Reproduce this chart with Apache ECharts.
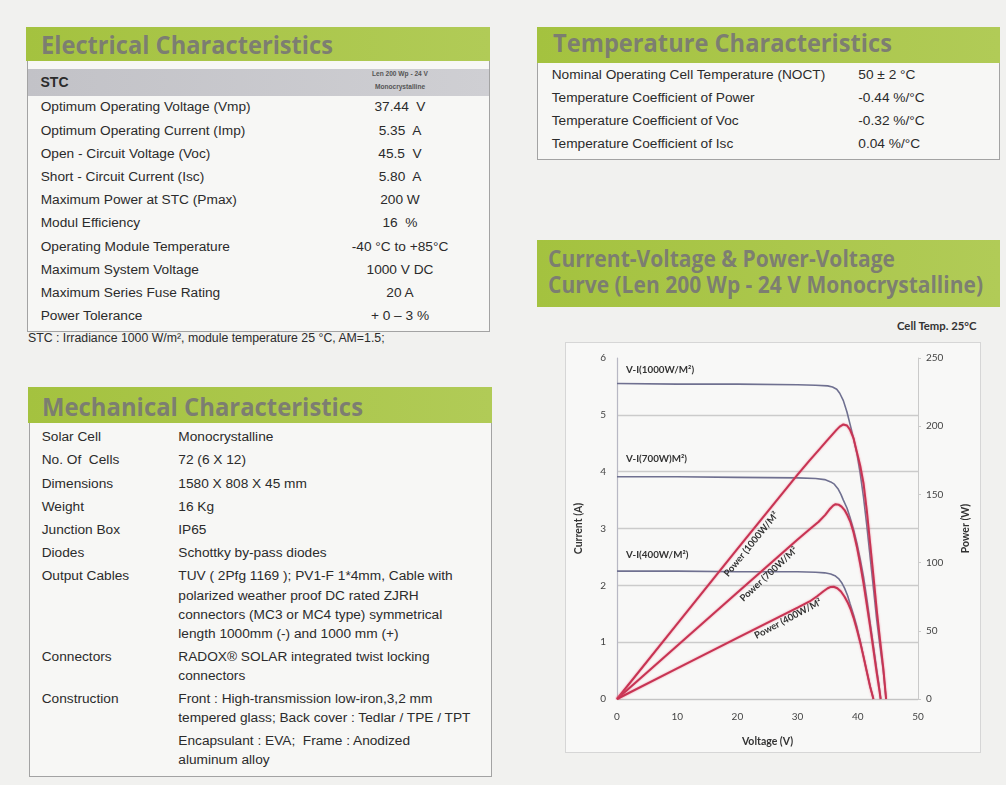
<!DOCTYPE html>
<html><head><meta charset="utf-8">
<script src="https://cdn.jsdelivr.net/npm/echarts@6/dist/echarts.min.js"></script>
<style>
html,body{margin:0;padding:0;}
body{width:1006px;height:785px;position:relative;overflow:hidden;background:#f1f1ef;font-family:"Liberation Sans",Arial,sans-serif;color:#2b2b2b;}
.band{position:absolute;background:linear-gradient(90deg,#a4c23f,#b1cb57);}
.t{position:absolute;font-family:"Open Sans",sans-serif;font-weight:700;color:rgba(122,122,116,0.95);white-space:nowrap;transform-origin:0 50%;line-height:30px;}
.box{position:absolute;border:1px solid #a3a3a3;border-top:none;background:#f7f7f5;box-sizing:border-box;}
.txt{position:absolute;white-space:pre;font-size:13.7px;line-height:16px;height:16px;}
#chartbox{position:absolute;left:565px;top:342px;width:416px;height:411px;border:1px solid #d6d6d6;box-sizing:border-box;background:#f8f8f7;}
#chart{position:absolute;left:565px;top:342px;width:416px;height:411px;}
</style></head>
<body>
<div id="page"></div>
<div id="chartbox"></div>
<div id="chart"></div>
<script>
// ---------- table texts ----------
const elecLabels = ["Optimum Operating Voltage (Vmp)","Optimum Operating Current (Imp)","Open - Circuit Voltage (Voc)","Short - Circuit Current (Isc)","Maximum Power at STC (Pmax)","Modul Efficiency","Operating Module Temperature","Maximum System Voltage","Maximum Series Fuse Rating","Power Tolerance"];
const elecValues = ["37.44  V","5.35  A","45.5  V","5.80  A","200 W","16  %","-40 °C to +85°C","1000 V DC","20 A","+ 0 – 3 %"];
const tempLabels = ["Nominal Operating Cell Temperature (NOCT)","Temperature Coefficient of Power","Temperature Coefficient of Voc","Temperature Coefficient of Isc"];
const tempValues = ["50 ± 2 °C","-0.44 %/°C","-0.32 %/°C","0.04 %/°C"];
const mechLabels = ["Solar Cell","No. Of  Cells","Dimensions","Weight","Junction Box","Diodes","Output Cables","Connectors","Construction"];
const mechValues = [["Monocrystalline"],["72 (6 X 12)"],["1580 X 808 X 45 mm"],["16 Kg"],["IP65"],["Schottky by-pass diodes"],
  ["TUV ( 2Pfg 1169 ); PV1-F 1*4mm, Cable with","polarized weather proof DC rated ZJRH","connectors (MC3 or MC4 type) symmetrical","length 1000mm (-) and 1000 mm (+)"],
  ["RADOX® SOLAR integrated twist locking","connectors"],
  ["Front : High-transmission low-iron,3,2 mm","tempered glass; Back cover : Tedlar / TPE / TPT","Encapsulant : EVA;  Frame : Anodized","aluminum alloy"]];

// ---------- chart data ----------
const viVolt1000 = [0,10,20,30,33,35,35.8,36.5,37,37.6,38.2,38.7,39.3,39.85,40.4,40.95,41.5,42.05,42.6,43.15,43.7,44.25,44.7];
const viCurr1000 = [5.55,5.54,5.54,5.53,5.52,5.51,5.49,5.45,5.38,5.25,5.05,4.84,4.58,4.32,3.97,3.55,3.05,2.50,1.95,1.39,0.92,0.48,0];
const pwVolt1000 = [0,10,20,30,32,33.5,34.8,35.8,36.5,37,37.6,38.2,38.7,39.3,39.85,40.4,40.95,41.5,42.05,42.6,43.15,43.7,44.25,44.7];
const pwPow1000  = [0,55,110,164.5,175,182.5,189,194,197.5,199.7,201.3,200.5,197.5,191,181,171,158,138,114,90,65,43,22,0];

const viVolt700 = [0,10,20,30,33,34.5,35.5,36.1,36.7,37.2,37.6,38.2,38.7,39.3,39.85,40.4,40.95,41.5,42.05,42.6,43.15,43.5,43.8];
const viCurr700 = [3.91,3.91,3.90,3.89,3.88,3.86,3.82,3.78,3.70,3.60,3.50,3.36,3.20,2.98,2.74,2.46,2.15,1.76,1.34,0.93,0.51,0.26,0];
const pwVolt700 = [0,10,20,30,32,33.5,34.6,35.4,35.9,36.3,36.8,37.3,37.8,38.3,38.8,39.3,39.85,40.4,40.95,41.5,42.05,42.6,43.15,43.5,43.8];
const pwPow700  = [0,39,78,117,124.5,130,135,139.5,141.8,142.8,142.5,141,138.5,134.5,129.5,122,111.5,99,85,69,53,36,19,9,0];

const viVolt400 = [0,10,20,30,33,34.5,35.5,36.2,36.8,37.3,37.8,38.3,38.7,39.3,39.85,40.4,40.95,41.5,42.05,42.6];
const viCurr400 = [2.25,2.25,2.24,2.24,2.23,2.22,2.20,2.17,2.12,2.05,1.95,1.82,1.68,1.48,1.27,1.02,0.75,0.48,0.22,0];
const pwVolt400 = [0,10,20,30,32,33.3,34.3,35,35.5,36,36.6,37.2,37.8,38.3,38.8,39.3,39.85,40.4,40.95,41.5,42.05,42.6];
const pwPow400  = [0,22.4,44.8,67,71.5,75.5,79,81.2,82.2,82.3,81.2,78.8,75,71,66,59.5,51,41.5,31,20,9,0];

const viNames = ["V-I(1000W/M²)","V-I(700W)M²)","V-I(400W/M²)"];
const pwNames = ["Power (1000W/M²","Power (700W/M²","Power (400W/M²"];

// ---------- build page ----------
const page = document.getElementById('page');
function el(cls, css, text){ const d=document.createElement('div'); d.className=cls; Object.assign(d.style,css); if(text!==undefined) d.textContent=text; page.appendChild(d); return d; }
function band(l,t,w,h){ el('band',{left:l+'px',top:t+'px',width:w+'px',height:h+'px'}); }
function title(text,x,yc,size,targetW){ const d=el('t',{left:x+'px',top:(yc-15)+'px',fontSize:size+'px'},text); d.dataset.w=targetW; }
function txt(text,x,yc,extra){ const d=el('txt',Object.assign({left:x+'px',top:(yc-8)+'px'},extra||{}),text); return d; }

// Electrical
band(26,27,464,34); title("Electrical Characteristics",40.7,43.5,25,292);
el('box',{left:'27px',top:'61px',width:'463px',height:'271px'});
el('stc',{position:'absolute',left:'28px',top:'69px',width:'461px',height:'27px',background:'linear-gradient(90deg,#c2c2c7,#cfcfd3)'});
txt("STC",40.5,82,{fontWeight:'700',fontSize:'14px'});
const hdr = el('hd',{position:'absolute',left:'350px',top:'67px',width:'100px',textAlign:'center',fontSize:'6.6px',lineHeight:'13px',fontWeight:'700',color:'#555',fontFamily:'"Liberation Sans",Arial,sans-serif'});
hdr.innerHTML = "Len 200 Wp - 24 V<br>Monocrystalline";
elecLabels.forEach((s,i)=>{ const y=107.3+i*23.2; txt(s,40.7,y); txt(elecValues[i],300,y,{width:'200px',textAlign:'center'}); });
txt("STC : Irradiance 1000 W/m², module temperature 25 °C, AM=1.5;",28,338,{fontSize:'12.3px'});

// Mechanical
band(28,387,464,36); title("Mechanical Characteristics",41.7,406,25,321);
el('box',{left:'29px',top:'423px',width:'463px',height:'354px'});
const mechY = [[437],[460],[483.5],[507],[530],[553],[576,595.5,615,634],[657,676],[699,718.3,741,760]];
mechLabels.forEach((s,i)=>{ txt(s,41.7,mechY[i][0]); mechValues[i].forEach((v,j)=>txt(v,178.3,mechY[i][j])); });

// Temperature
band(537,27,463,36); title("Temperature Characteristics",552.7,42,25,339);
el('box',{left:'537px',top:'63px',width:'463px',height:'97px'});
tempLabels.forEach((s,i)=>{ const y=75+i*23; txt(s,551.7,y); txt(tempValues[i],858.3,y); });

// Curve header
band(537,240,463,67);
title("Current-Voltage & Power-Voltage",548,258.3,23,347);
title("Curve (Len 200 Wp - 24 V Monocrystalline)",548,283.5,23,435);
txt("Cell Temp. 25°C",897,326,{fontFamily:'Lato,sans-serif',fontWeight:'700',fontSize:'11.3px',color:'#333'});

// fit titles to measured widths
document.querySelectorAll('.t').forEach(d=>{ const w=d.getBoundingClientRect().width; d.style.transform='scaleX('+(+d.dataset.w/w)+')'; });

// ---------- chart ----------
const chart = echarts.init(document.getElementById('chart'));
const pairs=(xs,ys)=>xs.map((x,i)=>[x,ys[i]]);
const lab = {fontFamily:'Lato, sans-serif',fontSize:10,color:'#444'};
const nameStyle = {fontFamily:'Lato, sans-serif',fontSize:10.5,fontWeight:'bold',color:'#333'};
const viStyle = {color:'#6f7090',width:1.6};
const pwStyle = {color:'#c73453',width:2,shadowColor:'rgba(235,90,120,0.7)',shadowBlur:2};
function line(name,data,yIdx,style){ return {name,type:'line',data,yAxisIndex:yIdx,showSymbol:false,symbol:'none',smooth:false,lineStyle:style,z:yIdx?3:2}; }
chart.setOption({
  animation:false,
  backgroundColor:'transparent',
  grid:{left:51,right:63,top:16,bottom:54},
  xAxis:{type:'value',min:0,max:50,interval:10,name:'Voltage (V)',nameLocation:'middle',nameGap:37,nameTextStyle:nameStyle,
    axisLine:{show:true,lineStyle:{color:'#c4c4c4',width:1.2}},axisTick:{show:false},axisLabel:Object.assign({margin:13},lab),splitLine:{show:false}},
  yAxis:[
    {type:'value',min:0,max:6,interval:1,name:'Current (A)',nameLocation:'middle',nameGap:33,nameRotate:90,nameTextStyle:nameStyle,
     axisLine:{show:true,lineStyle:{color:'#b8b8c4',width:1.2}},axisTick:{show:false},axisLabel:Object.assign({margin:11},lab),
     splitLine:{show:true,showMaxLine:false,lineStyle:{color:'#cbcbcb',width:1.3}}},
    {type:'value',min:0,max:250,interval:50,position:'right',name:'Power (W)',nameLocation:'middle',nameGap:42,nameRotate:90,nameTextStyle:nameStyle,
     axisLine:{show:true,lineStyle:{color:'#cacaca',width:1}},axisTick:{show:true,length:3,lineStyle:{color:'#cacaca'}},axisLabel:Object.assign({margin:8},lab),splitLine:{show:false}}
  ],
  series:[
    line(viNames[0],pairs(viVolt1000,viCurr1000),0,viStyle),
    line(viNames[1],pairs(viVolt700,viCurr700),0,viStyle),
    line(viNames[2],pairs(viVolt400,viCurr400),0,viStyle),
    line(pwNames[0],pairs(pwVolt1000,pwPow1000),1,pwStyle),
    line(pwNames[1],pairs(pwVolt700,pwPow700),1,pwStyle),
    line(pwNames[2],pairs(pwVolt400,pwPow400),1,pwStyle)
  ]
});
// annotation anchors in data units
const viLabelAt = [[1.5,5.8],[1.5,4.23],[1.5,2.53]];
const pwLabelAt = [[22.3,113.5,50.6],[25.2,91.5,43],[28.4,58.8,28]];
const gr=[];
viLabelAt.forEach((a,i)=>{ const p=chart.convertToPixel({xAxisIndex:0,yAxisIndex:0},a);
  gr.push({type:'text',x:p[0],y:p[1],z:10,style:{text:viNames[i],font:'bold 9.8px Lato, sans-serif',fill:'#333',align:'left',verticalAlign:'middle',textAlign:'left',textVerticalAlign:'middle'}}); });
pwLabelAt.forEach((a,i)=>{ const p=chart.convertToPixel({xAxisIndex:0,yAxisIndex:1},[a[0],a[1]]);
  gr.push({type:'text',x:p[0],y:p[1],rotation:a[2]*Math.PI/180,z:10,style:{text:pwNames[i],font:'bold 9.5px Lato, sans-serif',fill:'#333',align:'center',verticalAlign:'middle',textAlign:'center',textVerticalAlign:'middle'}}); });
chart.setOption({graphic:gr});
</script>
</body></html>
